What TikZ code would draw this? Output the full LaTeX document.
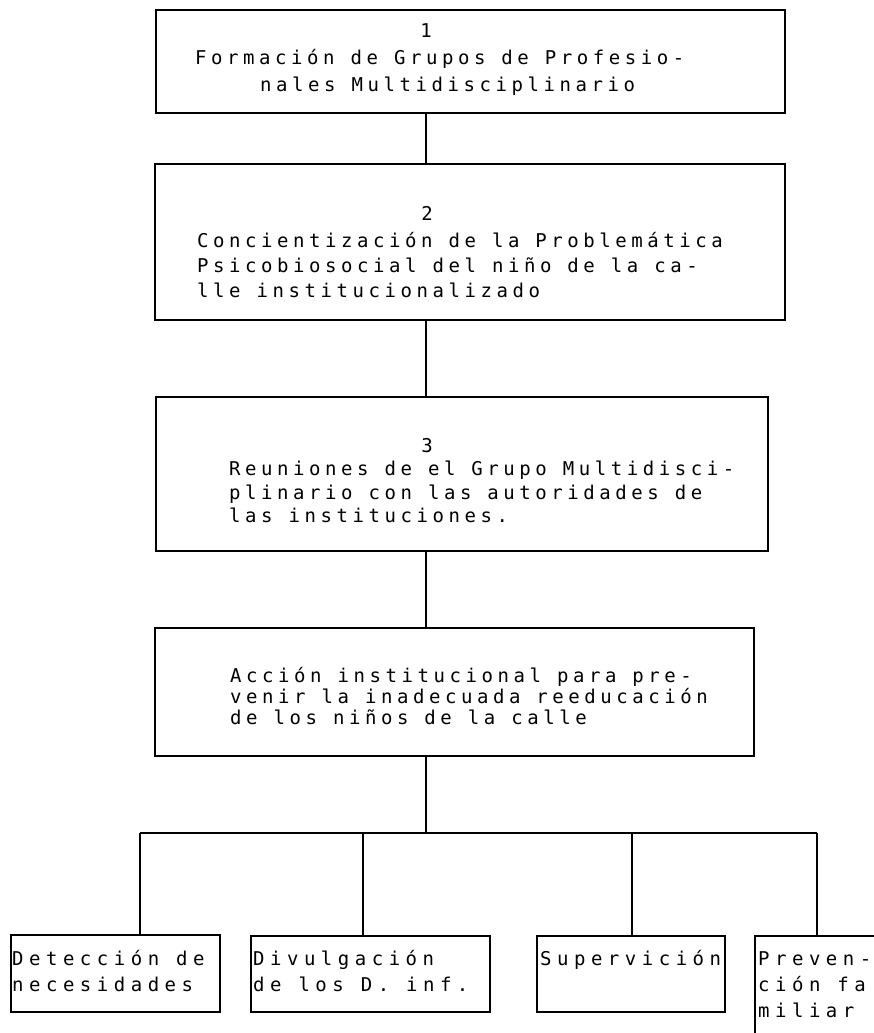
\documentclass[tikz,border=0pt]{standalone}
\usepackage{fontspec}
\newfontfamily\dmA[LetterSpace=24]{DejaVu Sans Mono}
\newfontfamily\dmB[LetterSpace=29]{DejaVu Sans Mono}
\begin{document}
\begin{tikzpicture}[x=1pt,y=-1pt,
  box/.style={draw, line width=1.6pt, rectangle, inner sep=0pt, outer sep=0pt},
  link/.style={line width=1.6pt},
  txt/.style={anchor=base west, inner sep=0pt, font=\dmA\fontsize{19}{19}\selectfont},
  btxt/.style={anchor=base west, inner sep=0pt, font=\dmB\fontsize{19}{19}\selectfont},
  num/.style={anchor=base, inner sep=0pt, font=\dmA\fontsize{19}{19}\selectfont}]
\useasboundingbox (0,0) rectangle (874,1033);
\clip (0,0) rectangle (874,1033);
\fill[white] (0,0) rectangle (874,1033);
% main boxes
\node[box, minimum width=629pt, minimum height=103pt] (b1) at (470.5,61.5) {};
\node[box, minimum width=630pt, minimum height=156pt] (b2) at (470,242) {};
\node[box, minimum width=612pt, minimum height=154pt] (b3) at (462,474) {};
\node[box, minimum width=599pt, minimum height=128pt] (b4) at (454.5,692) {};
% bottom boxes
\node[box, minimum width=209pt, minimum height=77pt] (c1) at (115.5,973.5) {};
\node[box, minimum width=239pt, minimum height=76pt] (c2) at (370.5,974) {};
\node[box, minimum width=188pt, minimum height=76pt] (c3) at (631,974) {};
\node[box, minimum width=145pt, minimum height=124pt] (c4) at (827.5,998) {};
% connectors
\coordinate (spine) at (426,0);
\coordinate (bus) at (426,833);
\coordinate (d1) at (140,833);
\coordinate (d2) at (363,833);
\coordinate (d3) at (632,833);
\coordinate (d4) at (817,833);
\draw[link] (b1.south -| spine) -- (b2.north -| spine);
\draw[link] (b2.south -| spine) -- (b3.north -| spine);
\draw[link] (b3.south -| spine) -- (b4.north -| spine);
\draw[link] (b4.south -| spine) -- (bus);
\draw[link] (d1) -- (d4);
\draw[link] (d1) -- (c1.north -| d1);
\draw[link] (d2) -- (c2.north -| d2);
\draw[link] (d3) -- (c3.north -| d3);
\draw[link] (d4) -- (c4.north -| d4);
% box 1 text
\node[num] (n1) at (426,38) {1};
\node[txt] (t1a) at (195,64) {Formación de Grupos de Profesio-};
\node[txt] (t1b) at (260,91) {nales Multidisciplinario};
% box 2 text
\node[num] (n2) at (427,220) {2};
\node[txt] (t2a) at (197,247) {Concientización de la Problemática};
\node[txt] (t2b) at (197,272) {Psicobiosocial del niño de la ca-};
\node[txt] (t2c) at (197,297) {lle institucionalizado};
% box 3 text
\node[num] (n3) at (427,452) {3};
\node[txt] (t3a) at (229,475) {Reuniones de el Grupo Multidisci-};
\node[txt] (t3b) at (229,499) {plinario con las autoridades de};
\node[txt] (t3c) at (229,522) {las instituciones.};
% box 4 text
\node[txt] (t4a) at (230,682) {Acción institucional para pre-};
\node[txt] (t4b) at (230,703) {venir la inadecuada reeducación};
\node[txt] (t4c) at (230,724) {de los niños de la calle};
% bottom texts
\node[btxt] (u1a) at (12,965) {Detección de};
\node[btxt] (u1b) at (12,991) {necesidades};
\node[btxt] (u2a) at (253,965) {Divulgación};
\node[btxt] (u2b) at (253,991) {de los D. inf.};
\node[btxt] (u3a) at (540,965) {Supervición};
\node[btxt] (u4a) at (758,965) {Preven-};
\node[btxt] (u4b) at (758,991) {ción fa};
\node[btxt] (u4c) at (758,1017) {miliar};
\end{tikzpicture}
\end{document}
